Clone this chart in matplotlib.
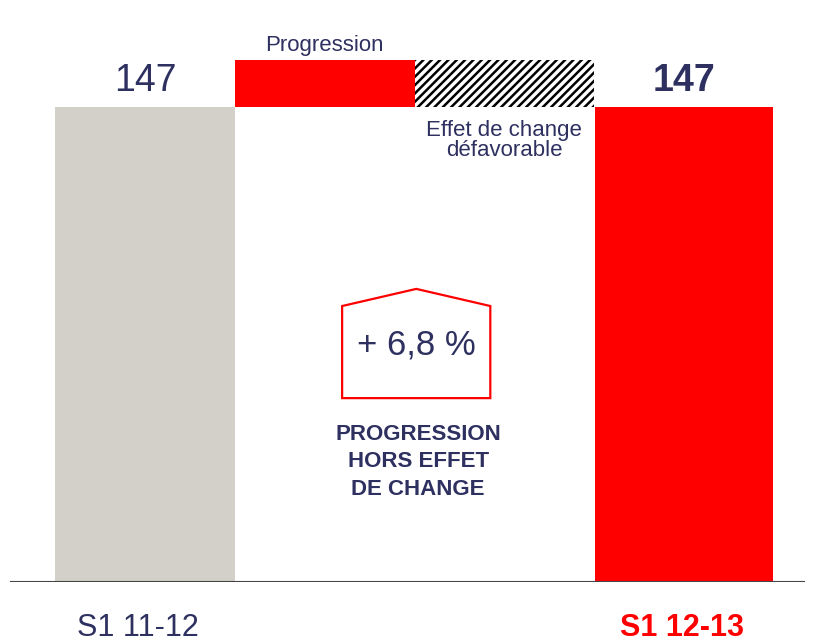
import numpy as np
import matplotlib.pyplot as plt
from matplotlib.patches import Polygon

plt.rcParams['font.family'] = ['Liberation Sans', 'DejaVu Sans']
plt.rcParams['hatch.linewidth'] = 1.8

# waterfall data
steps = ['S1 11-12', 'Progression', 'Effet de change', 'S1 12-13']
deltas = [147, 14.6, -14.6, 147]
kinds = ['total', 'up', 'down', 'total']
step_labels = ['147', 'Progression', 'Effet de change\ndéfavorable', '147']
pct_text = '+ 6,8 %'
note_text = 'PROGRESSION\nHORS EFFET\nDE CHANGE'

navy = '#2e3060'
red = '#ff0000'
grey = '#d3d0c9'

fig = plt.figure(figsize=(8.17, 6.43), dpi=100)
ax = fig.add_axes([10 / 817, 61 / 643, 795 / 817, 582 / 643])
ax.set_xlim(-0.752, 3.674)
ax.set_ylim(0, 180.1)
ax.axis('off')

x = np.arange(len(steps))
level = 0
for i, (d, k) in enumerate(zip(deltas, kinds)):
    if k == 'total':
        bottom, h = 0, d
        level = d
    elif k == 'up':
        bottom, h = level, d
        level += d
    else:
        level += d
        bottom, h = level, -d
    if i == 0:
        ax.bar(x[i], h, bottom=bottom, width=1.0, color=grey, linewidth=0)
    elif k == 'down':
        ax.bar(x[i], h, bottom=bottom, width=1.0, facecolor='white',
               edgecolor='black', hatch='////', linewidth=0)
    else:
        ax.bar(x[i], h, bottom=bottom, width=0.99 if i == 3 else 1.0,
               color=red, linewidth=0)

ax.axhline(0, color='#444444', lw=1.5)

# value labels
ax.text(x[0], 155, step_labels[0], ha='center', va='center', fontsize=27, color=navy)
ax.text(x[3], 155, step_labels[3], ha='center', va='center', fontsize=27,
        color=navy, fontweight='bold')
ax.text(x[1], 166, step_labels[1], ha='center', va='center', fontsize=16, color=navy)
ax.text(x[2], 136.5, step_labels[2], ha='center', va='center', fontsize=16,
        color=navy, linespacing=0.95)

# category labels
ax.text(x[0] - 0.04, -14.3, steps[0], ha='center', va='center', fontsize=22,
        color=navy, clip_on=False)
ax.text(x[3] - 0.01, -14.3, steps[3], ha='center', va='center', fontsize=22,
        color=red, fontweight='bold', clip_on=False)

# house-shaped callout
house = Polygon([[1.097, 56.9], [1.097, 85.4], [1.51, 90.7], [1.922, 85.4],
                 [1.922, 56.9]], closed=True, fill=False, edgecolor=red, lw=1.6)
ax.add_patch(house)
ax.text(1.51, 73.4, pct_text, ha='center', va='center', fontsize=25, color=navy)
ax.text(1.52, 37.2, note_text, ha='center', va='center', fontsize=16,
        color=navy, fontweight='bold', linespacing=1.4)

fig.savefig('out.png', dpi=100)
